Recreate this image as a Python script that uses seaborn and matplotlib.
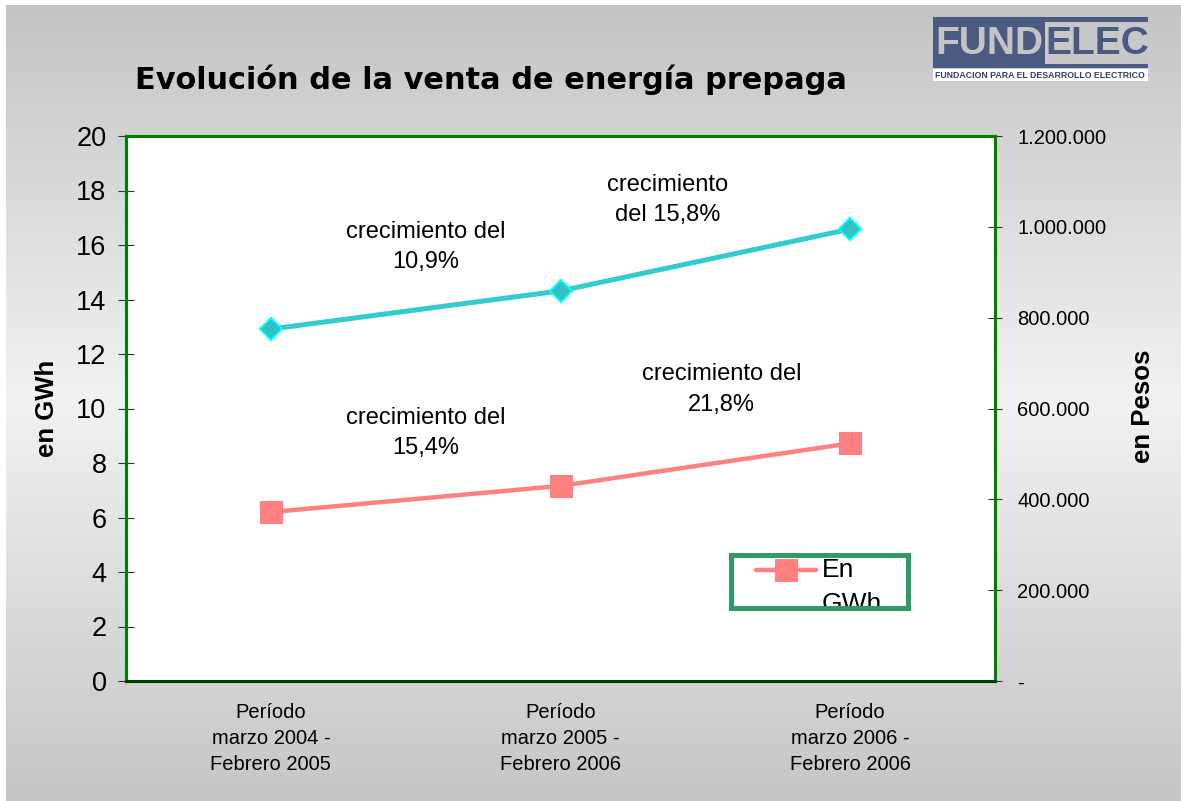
import numpy as np
import pandas as pd
import matplotlib
matplotlib.use("Agg")
import matplotlib.pyplot as plt
import seaborn as sns
from matplotlib.patches import Rectangle
from matplotlib.colors import LinearSegmentedColormap
from matplotlib.ticker import FuncFormatter

# ---- data ----
categories = ["Período\nmarzo 2004 -\nFebrero 2005",
              "Período\nmarzo 2005 -\nFebrero 2006",
              "Período\nmarzo 2006 -\nFebrero 2006"]
gwh_values = [6.2, 7.16, 8.72]
pesos_values = [775000, 859000, 995000]
gwh_notes = ["crecimiento del\n15,4%", "crecimiento del\n21,8%"]
pesos_notes = ["crecimiento del\n10,9%", "crecimiento\ndel 15,8%"]
left_ticks = list(range(0, 21, 2))
right_ticks = list(range(0, 1200001, 200000))
title = "Evolución de la venta de energía prepaga"
legend_label = "\nEn\nGWh"

sns.set_theme(style="white")
plt.rcParams['font.family'] = ['Liberation Sans', 'DejaVu Sans']
plt.rcParams['text.color'] = 'black'
plt.rcParams['xtick.color'] = 'black'
plt.rcParams['ytick.color'] = 'black'

W, H = 11.81, 8.01
fig = plt.figure(figsize=(W, H), dpi=100)

# background gradient
bg = fig.add_axes([0, 0, 1, 1], zorder=-10)
bg.set_axis_off()
cmap = LinearSegmentedColormap.from_list(
    "g", [(0, "#c4c4c4"), (0.5, "#f2f2f2"), (1, "#c6c6c6")])
grad = np.linspace(0, 1, 256).reshape(-1, 1)
bg.imshow(grad, aspect="auto", cmap=cmap, extent=[0, 1, 0, 1], origin="upper")
bg.set_xlim(0, 1); bg.set_ylim(0, 1)
bg.add_patch(Rectangle((0, 1 - 5 / 801), 1, 5 / 801, color="white", lw=0))
bg.add_patch(Rectangle((0, 0), 6 / 1181, 1, color="white", lw=0))

# main axes
x0, x1, y0, y1 = 126, 995, 136, 681
ax = fig.add_axes([x0 / 1181, 1 - y1 / 801, (x1 - x0) / 1181, (y1 - y0) / 801])
ax.set_facecolor("white")
ax2 = ax.twinx()

xpos = list(range(len(categories)))
df = pd.DataFrame({"x": xpos, "gwh": gwh_values, "pesos": pesos_values})

sns.lineplot(data=df, x="x", y="gwh", ax=ax, color="#ff8080", lw=3.2,
             marker="s", markersize=16, markeredgecolor="#ff8080",
             label=legend_label, zorder=3)
sns.lineplot(data=df, x="x", y="pesos", ax=ax2, color="#33cccc", lw=3.6,
             marker="D", markersize=11, markerfacecolor="#33c0c0",
             markeredgecolor="#00ffff", markeredgewidth=1.5, legend=False,
             zorder=3)

ax.set_xlim(-0.5, 2.5)
ax.set_ylim(0, 20)
ax2.set_ylim(0, 1200000)
ax.set_yticks(left_ticks)
ax2.set_yticks(right_ticks)
ax.set_xticks([-0.5, 0.5, 1.5, 2.5])
ax.set_xticklabels([])
ax.set_xticks(xpos, minor=True)
ax.set_xticklabels(categories, minor=True, fontsize=14.5, linespacing=1.45)
ax.tick_params(axis="x", which="minor", length=0, pad=16)
ax.tick_params(axis="x", which="major", direction="inout", length=12,
               width=0.8, color="black")
ax.tick_params(axis="y", direction="inout", length=12, width=0.8,
               color="#333333", labelsize=19.5, pad=8)
ax2.tick_params(axis="y", direction="inout", length=10, width=0.8,
                color="#333333", labelsize=14.5, pad=11)


def pesos_fmt(v, pos):
    if v == 0:
        return "-"
    return f"{int(v):,}".replace(",", ".")


ax2.yaxis.set_major_formatter(FuncFormatter(pesos_fmt))
ax.set_xlabel("")
ax.set_ylabel("")
ax2.set_ylabel("")

for a in (ax, ax2):
    for s in ("left", "top", "right"):
        a.spines[s].set_color("#008000")
        a.spines[s].set_linewidth(2.2)
    a.spines["bottom"].set_color("#004000")
    a.spines["bottom"].set_linewidth(2.2)

fig.text(47 / 1181, 1 - 408 / 801, "en GWh", rotation=90, ha="center",
         va="center", fontsize=18.5, fontweight="bold")
fig.text(1143 / 1181, 1 - 406 / 801, "en Pesos", rotation=90, ha="center",
         va="center", fontsize=18.5, fontweight="bold")

# annotations
note_kw = dict(ha="center", va="center", fontsize=17, linespacing=1.5,
               zorder=5)
ax.text(0.536, 9.1, gwh_notes[0], **note_kw)
ax.text(1.557, 10.7, gwh_notes[1], **note_kw)
ax2.text(0.536, 955600, pesos_notes[0], **note_kw)
ax2.text(1.371, 1059000, pesos_notes[1], **note_kw)

# title
fig.text(135 / 1181, 1 - 80 / 801, title, ha="left", va="center",
         fontsize=21.9, fontweight="bold", family=["DejaVu Sans"])

# legend (box + clipped text)
lx0, ly0, lx1, ly1 = 728, 552, 910, 610
box_xy = ((lx0 + 2.5 - x0) / (x1 - x0), (y1 - ly1 + 2.5) / (y1 - y0))
box_wh = ((lx1 - lx0 - 5) / (x1 - x0), (ly1 - ly0 - 5) / (y1 - y0))
box_fill = Rectangle(box_xy, *box_wh, transform=ax.transAxes,
                     facecolor="white", edgecolor="none", zorder=6)
box_edge = Rectangle(box_xy, *box_wh, transform=ax.transAxes,
                     facecolor="none", edgecolor="#339966", lw=3.6, zorder=8)
ax2.add_patch(box_fill)
ax2.add_patch(box_edge)
handles, labels = ax.get_legend_handles_labels()
if ax.get_legend() is not None:
    ax.get_legend().remove()
leg = ax2.legend(handles, labels, loc="center left",
                 bbox_to_anchor=((753 - x0) / (x1 - x0),
                                 (y1 - 570) / (y1 - y0)),
                 frameon=False, fontsize=19, handlelength=2.3,
                 handletextpad=0.2, borderaxespad=0, borderpad=0.1)
leg.set_zorder(7)
for t in leg.get_texts():
    t.set_clip_path(box_fill)
    t.set_linespacing(1.55)

# logo
lg = fig.add_axes([0, 0, 1, 1], zorder=-5)
lg.set_axis_off()
lg.set_xlim(0, 1181); lg.set_ylim(801, 0)
lg.add_patch(Rectangle((933, 17), 215, 51, facecolor="#4b5a80", lw=0))
lg.add_patch(Rectangle((1045, 22), 103, 42, facecolor="#c8c8c8", lw=0))
lg.add_patch(Rectangle((933, 69), 215, 12, facecolor="white", lw=0))
lg.text(989, 44, "FUND", ha="center", va="center", fontsize=28,
        fontweight="bold", color="#c4c4c4")
lg.text(1097, 44, "ELEC", ha="center", va="center", fontsize=28,
        fontweight="bold", color="#4b5a80")
lg.text(1040, 75.5, "FUNDACION PARA EL DESARROLLO ELECTRICO", ha="center",
        va="center", fontsize=6.3, fontweight="bold", color="#2e3e6a")

fig.savefig("out.png", dpi=100)
